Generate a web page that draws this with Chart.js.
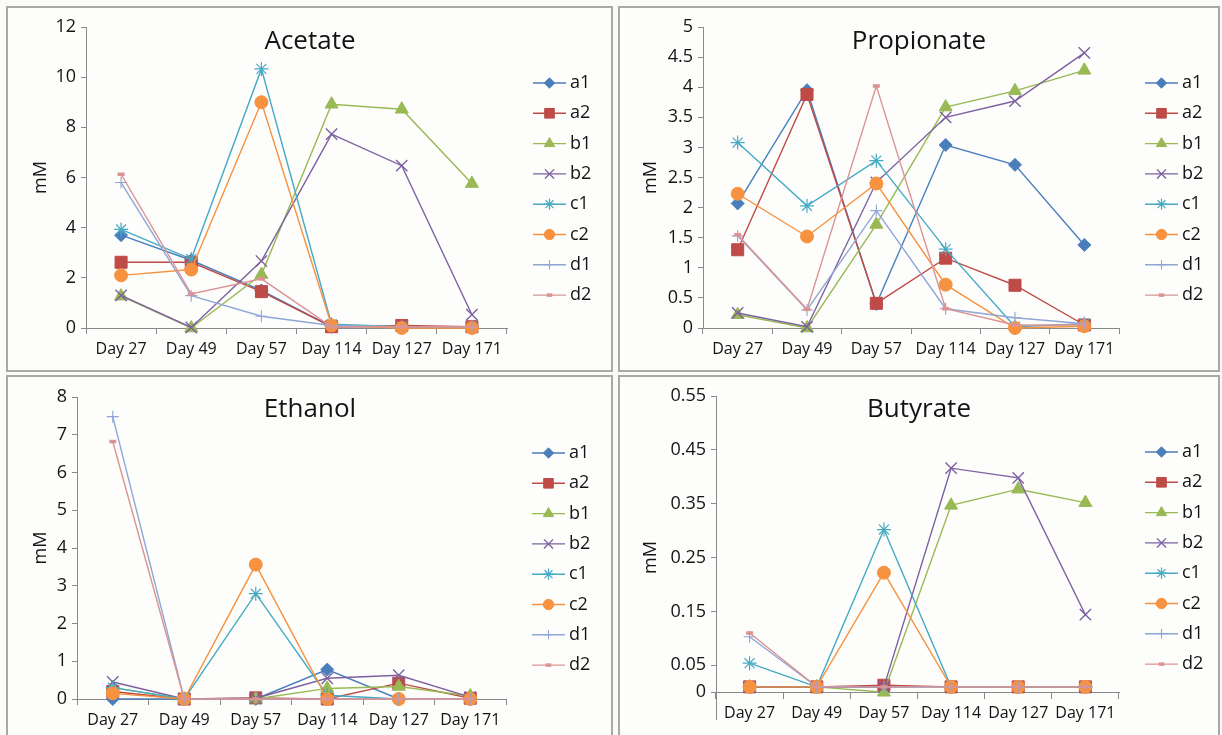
<!DOCTYPE html>
<html><head><meta charset="utf-8">
<script src="https://cdn.jsdelivr.net/npm/chart.js@4"></script>
<style>
html,body{margin:0;padding:0;background:#fbfbf8;}
body{width:1222px;height:735px;position:relative;overflow:hidden;}
.panel{position:absolute;box-sizing:border-box;border:2px solid #a8a8a8;background:#fdfdfb;}
canvas{position:absolute;}
</style></head><body>
<div class="panel" style="left:6px;top:6px;width:607px;height:366px"></div>
<div class="panel" style="left:618px;top:6px;width:602px;height:366px"></div>
<div class="panel" style="left:6px;top:375px;width:607px;height:366px"></div>
<div class="panel" style="left:618px;top:375px;width:602px;height:366px"></div>
<canvas id="cA" width="604" height="363" style="left:8px;top:8px"></canvas>
<canvas id="cP" width="598" height="363" style="left:620px;top:8px"></canvas>
<canvas id="cE" width="604" height="358" style="left:8px;top:377px"></canvas>
<canvas id="cB" width="598" height="358" style="left:620px;top:377px"></canvas>
<script>
const days = ['Day 27','Day 49','Day 57','Day 114','Day 127','Day 171'];
const seriesNames = ['a1','a2','b1','b2','c1','c2','d1','d2'];

// rows follow seriesNames order
const acetate = [
  [3.7, 2.7, 1.5, 0.05, 0.05, 0.05],
  [2.62, 2.62, 1.45, 0.05, 0.1, 0.05],
  [1.27, 0, 2.13, 8.92, 8.72, 5.76],
  [1.3, 0.02, 2.67, 7.73, 6.47, 0.53],
  [3.93, 2.75, 10.33, 0.15, 0.05, 0.05],
  [2.1, 2.33, 9.0, 0.1, 0.0, 0.0],
  [5.8, 1.29, 0.47, 0.1, 0.05, 0.05],
  [6.13, 1.36, 1.96, 0.05, 0.05, 0.05]
];
const propionate = [
  [2.07, 3.95, 0.4, 3.04, 2.71, 1.38],
  [1.3, 3.88, 0.41, 1.16, 0.71, 0.05],
  [0.22, 0, 1.72, 3.67, 3.94, 4.28],
  [0.25, 0.02, 2.42, 3.5, 3.77, 4.57],
  [3.08, 2.03, 2.78, 1.31, 0.02, 0.07],
  [2.23, 1.52, 2.4, 0.72, 0.0, 0.03],
  [1.53, 0.3, 1.95, 0.32, 0.17, 0.07],
  [1.55, 0.31, 4.02, 0.32, 0.05, 0.05]
];
const ethanol = [
  [0.0, 0.0, 0.0, 0.78, 0.0, 0.0],
  [0.2, 0.0, 0.03, 0.0, 0.42, 0.02],
  [0.3, 0.0, 0.0, 0.28, 0.33, 0.08],
  [0.45, 0.0, 0.02, 0.55, 0.63, 0.05],
  [0.3, 0.0, 2.79, 0.1, 0.0, 0.0],
  [0.15, 0.0, 3.56, 0.0, 0.0, 0.0],
  [7.48, 0.0, 0.0, 0.0, 0.0, 0.0],
  [6.82, 0.0, 0.0, 0.0, 0.0, 0.0]
];
const butyrate = [
  [0.01, 0.01, 0.01, 0.01, 0.01, 0.01],
  [0.01, 0.01, 0.013, 0.01, 0.01, 0.01],
  [0.01, 0.01, 0.0, 0.347, 0.377, 0.352],
  [0.01, 0.01, 0.01, 0.416, 0.398, 0.144],
  [0.054, 0.01, 0.302, 0.01, 0.01, 0.01],
  [0.01, 0.01, 0.222, 0.01, 0.01, 0.01],
  [0.103, 0.01, 0.01, 0.01, 0.01, 0.01],
  [0.11, 0.01, 0.01, 0.01, 0.01, 0.01]
];

const acetateTicks = [0, 2, 4, 6, 8, 10, 12];
const propionateTicks = [0, 0.5, 1, 1.5, 2, 2.5, 3, 3.5, 4, 4.5, 5];
const ethanolTicks = [0, 1, 2, 3, 4, 5, 6, 7, 8];
const butyrateTicks = [0, 0.05, 0.15, 0.25, 0.35, 0.45, 0.55];

const colors = ['#4A7EBB','#BE4B48','#98B954','#7D60A0','#46AAC5','#F69240','#8FA6D6','#DB9393'];
const markers = [
  {style:'rectRot', r:6.5, bw:1},
  {style:'rect', r:8.5, bw:1},
  {style:'triangle', r:7.5, bw:1},
  {style:'crossRot', r:8, bw:1.4},
  {style:'star', r:7, bw:1.2},
  {style:'circle', r:6.5, bw:1},
  {style:'cross', r:6, bw:1.1},
  {style:'line', r:3.5, bw:3.5}
];

const FONT = "'Open Sans', 'Noto Sans', sans-serif";
const AXIS = '#8a8a8a';
const TXT = '#141414';
Chart.defaults.font.family = FONT;
Chart.defaults.color = TXT;

const overlay = {
  id: 'overlay',
  afterDraw(chart, args, opts) {
    const {ctx, chartArea} = chart;
    ctx.save();
    ctx.fillStyle = TXT;
    ctx.font = '26px ' + FONT;
    ctx.textAlign = 'center';
    ctx.textBaseline = 'middle';
    ctx.fillText(opts.title, chart.width / 2 + (opts.titleDx || 0), chartArea.top + opts.titleDy);
    const x0 = chartArea.right + 26;
    chart.data.datasets.forEach((ds, i) => {
      const y = chartArea.top + 56 + i * 30.3;
      ctx.strokeStyle = ds.borderColor;
      ctx.lineWidth = ds.borderWidth;
      ctx.beginPath(); ctx.moveTo(x0, y); ctx.lineTo(x0 + 33, y); ctx.stroke();
      ctx.fillStyle = ds.pointBackgroundColor;
      ctx.strokeStyle = ds.pointBorderColor;
      ctx.lineWidth = ds.pointBorderWidth;
      Chart.helpers.drawPoint(ctx, {pointStyle: ds.pointStyle, radius: ds.pointRadius * 0.8, rotation: 0, borderWidth: ds.pointBorderWidth}, x0 + 16.5, y);
      ctx.fillStyle = TXT;
      ctx.font = '18px ' + FONT;
      ctx.textAlign = 'left';
      ctx.textBaseline = 'middle';
      ctx.fillText(ds.label, x0 + 37, y);
    });
    ctx.restore();
  }
};

function makeChart(id, values, cfg) {
  const datasets = seriesNames.map((name, i) => ({
    label: name,
    data: values[i],
    borderColor: colors[i],
    backgroundColor: colors[i],
    pointBackgroundColor: colors[i],
    pointBorderColor: colors[i],
    pointStyle: markers[i].style,
    pointRadius: markers[i].r,
    pointBorderWidth: markers[i].bw,
    borderWidth: 1.4,
    order: seriesNames.length - i,
    tension: 0,
    clip: false
  }));
  return new Chart(document.getElementById(id), {
    type: 'line',
    data: {labels: days, datasets},
    options: {
      responsive: false,
      animation: false,
      events: [],
      layout: {padding: {left: cfg.padL, right: cfg.padR, top: cfg.padT, bottom: cfg.padB}},
      plugins: {
        legend: {display: false},
        title: {display: false},
        tooltip: {enabled: false},
        overlay: {title: cfg.title, titleDy: cfg.titleDy}
      },
      scales: {
        x: {
          type: 'category',
          offset: true,
          position: cfg.xAt !== undefined ? {y: cfg.xAt} : 'bottom',
          grid: {offset: true, drawOnChartArea: false, drawTicks: true, tickLength: 6, color: AXIS},
          border: {display: true, color: AXIS, width: 1},
          ticks: {font: {size: 16}, color: TXT, padding: 6, maxRotation: 0, autoSkip: false},
          afterFit: s => { s.height = 36; }
        },
        y: {
          type: 'linear',
          min: cfg.min,
          max: cfg.max,
          afterBuildTicks: s => { s.ticks = cfg.ticks.map(v => ({value: v})); },
          grid: {drawOnChartArea: false, drawTicks: true, tickLength: 5, color: AXIS},
          border: {display: true, color: AXIS, width: 1},
          ticks: {font: {size: 18}, color: TXT, padding: 5, callback: v => String(+Number(v).toFixed(2))},
          title: {display: true, text: 'mM', font: {size: 18}, color: TXT, padding: {top: 4, bottom: 4}},
          afterFit: s => { s.width = cfg.yW; }
        }
      }
    },
    plugins: [overlay]
  });
}

makeChart('cA', acetate, {title: 'Acetate', titleDy: 15, min: 0, max: 12, ticks: acetateTicks,
  padL: 18, yW: 60, padR: 105, padT: 19, padB: 7});
makeChart('cP', propionate, {title: 'Propionate', titleDy: 15, min: 0, max: 5, ticks: propionateTicks,
  padL: 16, yW: 67, padR: 99, padT: 19, padB: 7});
makeChart('cE', ethanol, {title: 'Ethanol', titleDy: 13, min: 0, max: 8, ticks: ethanolTicks,
  padL: 18, yW: 51, padR: 106, padT: 20, padB: 0});
makeChart('cB', butyrate, {title: 'Butyrate', titleDy: 14, min: -0.05, max: 0.55, ticks: butyrateTicks, xAt: 0,
  padL: 16, yW: 80, padR: 99, padT: 19, padB: 13});
</script>
</body></html>
